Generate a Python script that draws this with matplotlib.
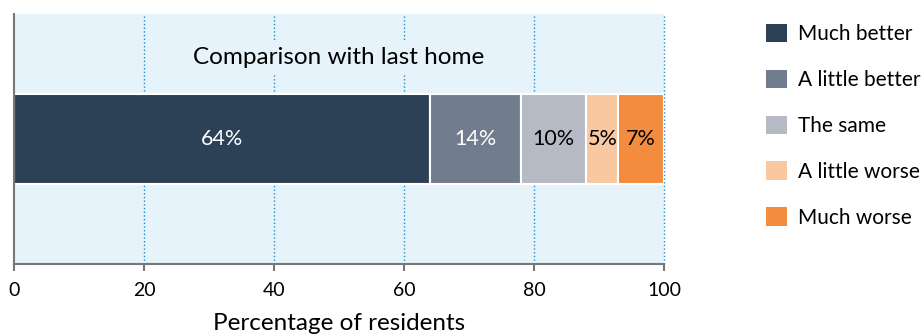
import matplotlib.pyplot as plt
from matplotlib.patches import Patch

categories = ['Much better', 'A little better', 'The same', 'A little worse', 'Much worse']
values = [64, 14, 10, 5, 7]
colors = ['#2D4156', '#717C8E', '#B6BAC4', '#F9C7A0', '#F48C40']
label_colors = ['white', 'white', 'black', 'black', 'black']
xticks = [0, 20, 40, 60, 80, 100]

plt.rcParams['font.family'] = ['Lato', 'DejaVu Sans']

fig = plt.figure(figsize=(9.23, 3.34), dpi=100)
ax = fig.add_axes([14 / 923, 1 - 264 / 334, 650 / 923, 250 / 334])
ax.set_facecolor('#E6F3FB')

# dotted vertical grid
for x in xticks[1:]:
    ax.axvline(x, linestyle=':', color='#1B8FC9', linewidth=1, zorder=1, clip_on=False)

left = 0
for cat, val, col, tc in zip(categories, values, colors, label_colors):
    ax.barh(0, val, left=left, height=0.72, color=col, edgecolor='white',
            linewidth=1.5, label=cat, zorder=3)
    ax.text(left + val / 2, 0, f'{val}%', ha='center', va='center',
            color=tc, fontsize=15.5, zorder=4)
    left += val

ax.set_xlim(0, 100)
ax.set_ylim(-1, 1)
ax.set_yticks([])
ax.set_xticks(xticks)
ax.tick_params(axis='x', labelsize=14, color='#777777', length=5, width=1.5, pad=8)
for s in ['top', 'right']:
    ax.spines[s].set_visible(False)
for s in ['left', 'bottom']:
    ax.spines[s].set_color('#777777')
    ax.spines[s].set_linewidth(1.5)
    ax.spines[s].set_zorder(5)

ax.text(50, 0.65, 'Comparison with last home', ha='center', va='center',
        fontsize=17.5, zorder=5,
        bbox=dict(facecolor='#E6F3FB', edgecolor='none', pad=4))
ax.set_xlabel('Percentage of residents', fontsize=17.5, labelpad=10)

handles = [Patch(facecolor=c, edgecolor='none') for c in colors]
fig.legend(handles, categories, loc='upper left', bbox_to_anchor=(747 / 923, 1 - 5 / 334),
           frameon=False, handlelength=1.0, handleheight=1.0,
           labelspacing=1.22, handletextpad=0.55, prop={'size': 15})

fig.savefig('out.png', dpi=100)
